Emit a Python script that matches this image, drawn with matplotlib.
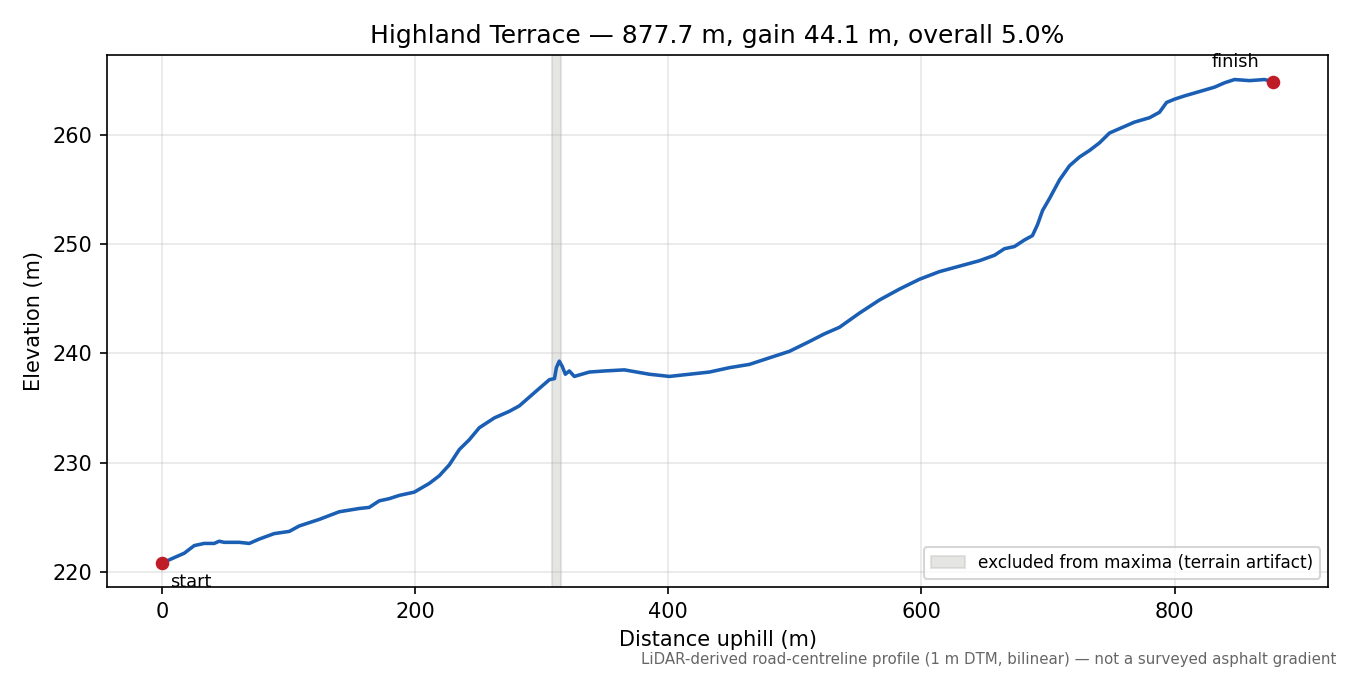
import matplotlib
matplotlib.use("Agg")
import matplotlib.pyplot as plt
import numpy as np

# profile
dist = [0, 9.5, 17.4, 25.3, 33.2, 41.1, 45, 49, 60.9, 68.8, 76.7, 88.5, 100.4, 108.3,
        124.1, 139.9, 155.7, 163.6, 171.5, 179.4, 187.4, 199.2, 211.1, 219, 226.9,
        234.8, 242.7, 250.6, 262.5, 274.3, 282.2, 290.1, 298, 306, 310, 311.5, 313.8,
        316.2, 318.6, 321.7, 325.7, 337.5, 349.4, 365.2, 385, 400.8, 416.6, 432.4,
        448.2, 464, 479.8, 495.7, 511.5, 523.3, 535.2, 551, 566.8, 582.6, 598.4,
        614.2, 630, 645.8, 657.7, 665.6, 673.5, 681.4, 687.7, 691.7, 695.7, 701.2,
        709.1, 717, 724.9, 732.8, 740.7, 748.6, 756.5, 768.4, 780.2, 788.1, 793.7,
        800, 807.9, 819.8, 831.6, 839.5, 847.4, 859.3, 871.1, 877.7]
elev = [220.8, 221.3, 221.7, 222.4, 222.6, 222.6, 222.8, 222.7, 222.7, 222.6, 223.0,
        223.5, 223.7, 224.2, 224.8, 225.5, 225.8, 225.9, 226.5, 226.7, 227.0, 227.3,
        228.1, 228.8, 229.8, 231.2, 232.1, 233.2, 234.1, 234.7, 235.2, 236.0, 236.8,
        237.6, 237.7, 238.7, 239.3, 238.8, 238.1, 238.4, 237.9, 238.3, 238.4, 238.5,
        238.1, 237.9, 238.1, 238.3, 238.7, 239.0, 239.6, 240.2, 241.1, 241.8, 242.4,
        243.7, 244.9, 245.9, 246.8, 247.5, 248.0, 248.5, 249.0, 249.6, 249.8, 250.4,
        250.8, 251.8, 253.1, 254.2, 255.9, 257.2, 258.0, 258.6, 259.3, 260.2, 260.6,
        261.2, 261.6, 262.1, 263.0, 263.3, 263.6, 264.0, 264.4, 264.8, 265.1, 265.0,
        265.1, 264.9]
artifact_span = (308, 315)

length = dist[-1]
gain = elev[-1] - elev[0]
grade = gain / length * 100

fig, ax = plt.subplots(figsize=(9, 4.5), dpi=150)
fig.subplots_adjust(left=0.079, right=0.984, top=0.918, bottom=0.13)

ax.axvspan(artifact_span[0], artifact_span[1], color="#c0bfbc", alpha=0.4,
           label="excluded from maxima (terrain artifact)")
ax.plot(dist, elev, color="#1a5fb4", lw=1.7)
ax.plot([dist[0], dist[-1]], [elev[0], elev[-1]], "o", color="#c01c28", ms=5.5, zorder=5)

ax.annotate("start", (dist[0], elev[0]), xytext=(4, -5), textcoords="offset points",
            ha="left", va="top", fontsize=8.5)
ax.annotate("finish", (dist[-1], elev[-1]), xytext=(-18, 5), textcoords="offset points",
            ha="center", va="bottom", fontsize=8.5)

ax.set_title(f"Highland Terrace \u2014 {length:.1f} m, gain {gain:.1f} m, overall {grade:.1f}%",
             fontsize=12)
ax.set_xlabel("Distance uphill (m)")
ax.set_ylabel("Elevation (m)")
ax.grid(True, alpha=0.3)
ax.legend(loc="lower right", fontsize=8.1)

fig.text(0.99, 0.012, "LiDAR-derived road-centreline profile (1 m DTM, bilinear) \u2014 "
         "not a surveyed asphalt gradient", ha="right", va="bottom", fontsize=7.2, color="#666666")

fig.savefig("out.png", dpi=150)
